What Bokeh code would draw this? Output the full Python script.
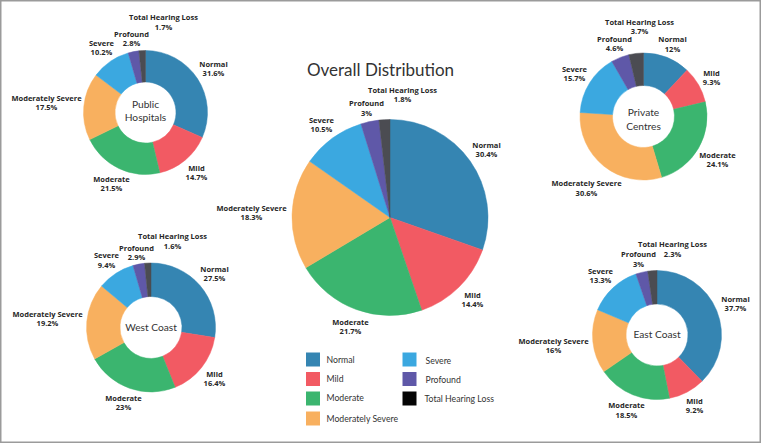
import numpy as np
from bokeh.core.properties import value
from bokeh.embed import file_html
from bokeh.models import ColumnDataSource
from bokeh.plotting import figure
from bokeh.resources import INLINE

W, H = 761, 443

CATEGORIES = ["Normal", "Mild", "Moderate", "Moderately Severe", "Severe", "Profound", "Total Hearing Loss"]
COLORS = ["#3585b2", "#f25a63", "#3bb56f", "#f8b05f", "#3ba8e0", "#5f58a8", "#4b4c52"]
LEGEND_COLORS = COLORS[:6] + ["#050505"]

OVERALL = [30.4, 14.4, 21.7, 18.3, 10.5, 3, 1.8]
PUBLIC = [31.6, 14.7, 21.5, 17.5, 10.2, 2.8, 1.7]
PRIVATE = [12, 9.3, 24.1, 30.6, 15.7, 4.6, 3.7]
WEST = [27.5, 16.4, 23, 19.2, 9.4, 2.9, 1.6]
EAST = [37.7, 9.2, 18.5, 16, 13.3, 3, 2.3]

# layout, in page pixels measured from the top left
PIES = [
    dict(values=OVERALL, cx=389.5, cy=217, r=98, hole=0, name="", name_y=0,
         lx=[486, 472, 350, 251, 321, 366, 402], ly=[149, 299, 326, 212, 124, 107.5, 94]),
    dict(values=PUBLIC, cx=145, cy=112, r=62, hole=30.5, name="Public\nHospitals", name_y=110,
         lx=[213, 196, 111, 46, 101, 131, 163], ly=[68, 172, 183, 102, 47, 38, 21.5]),
    dict(values=PRIVATE, cx=643, cy=116, r=63.5, hole=31, name="Private\nCentres", name_y=118.5,
         lx=[672, 711, 717, 586, 574, 614, 639], ly=[43.5, 77, 159, 187.5, 73, 43, 26]),
    dict(values=WEST, cx=150.5, cy=327, r=64.5, hole=31, name="West Coast", name_y=326,
         lx=[214, 214, 123, 47, 106, 136, 172], ly=[273, 378, 402, 318, 259.5, 252, 240.5]),
    dict(values=EAST, cx=656.5, cy=334.5, r=64.5, hole=31, name="East Coast", name_y=333,
         lx=[735, 694, 626, 553, 600, 638, 672], ly=[303, 405, 409.5, 345, 275, 258.5, 248.5]),
]
LEGEND_X = [312.5, 312.5, 312.5, 312.5, 409, 409, 409]
LEGEND_Y = [359, 378.5, 398, 418, 359, 378.5, 398]
LEGEND_TEXT_X = [326, 326, 326, 326, 425, 425, 424]
LEGEND_TEXT_Y = [359, 378, 397, 418, 360, 379, 398]

p = figure(width=W, height=H, x_range=(0, W), y_range=(0, H), output_backend="svg",
           toolbar_location=None, tools="", min_border=0)
p.axis.visible = False
p.grid.visible = False
p.outline_line_color = "#9b9b9b"
p.outline_line_width = 2
p.background_fill_color = "white"


def fy(y):
    # page pixels run downwards, the figure's y runs upwards
    return H - np.asarray(y, dtype=float)


for pie in PIES:
    shares = np.array(pie["values"]) / sum(pie["values"])
    ends = np.cumsum(shares)
    starts = ends - shares
    source = ColumnDataSource(dict(
        start=np.pi / 2 - 2 * np.pi * starts,
        end=np.pi / 2 - 2 * np.pi * ends,
        color=COLORS,
    ))
    p.annular_wedge(x=pie["cx"], y=float(fy(pie["cy"])), inner_radius=pie["hole"], outer_radius=pie["r"],
                    start_angle="start", end_angle="end", direction="clock",
                    fill_color="color", line_color="color", line_width=0.5, source=source)

    labels = [f"{c}\n{v}%" for c, v in zip(CATEGORIES, pie["values"])]
    p.text(x=pie["lx"], y=fy(pie["ly"]), text=labels, text_font=value("Open Sans"),
           text_font_style="bold", text_font_size="7.5px", text_color="#262626",
           text_align="center", text_baseline="middle", text_line_height=0.95)

    if pie["name"]:
        p.text(x=[pie["cx"]], y=fy([pie["name_y"]]), text=[pie["name"]], text_font=value("Lato"),
               text_font_size="10.2px", text_color="#333333", text_align="center",
               text_baseline="middle", text_line_height=1.1)

p.text(x=[380], y=fy([68.5]), text=["Overall Distribution"], text_font=value("Lato"),
       text_font_size="17px", text_color="#333333", text_align="center", text_baseline="middle")

p.rect(x=LEGEND_X, y=fy(LEGEND_Y), width=14, height=14, fill_color=LEGEND_COLORS, line_color=None)
p.text(x=LEGEND_TEXT_X, y=fy(LEGEND_TEXT_Y), text=CATEGORIES, text_font=value("Lato"),
       text_font_size="8.7px", text_color="#333333", text_align="left", text_baseline="middle")

open("out.html", "w").write(file_html(p, INLINE))
